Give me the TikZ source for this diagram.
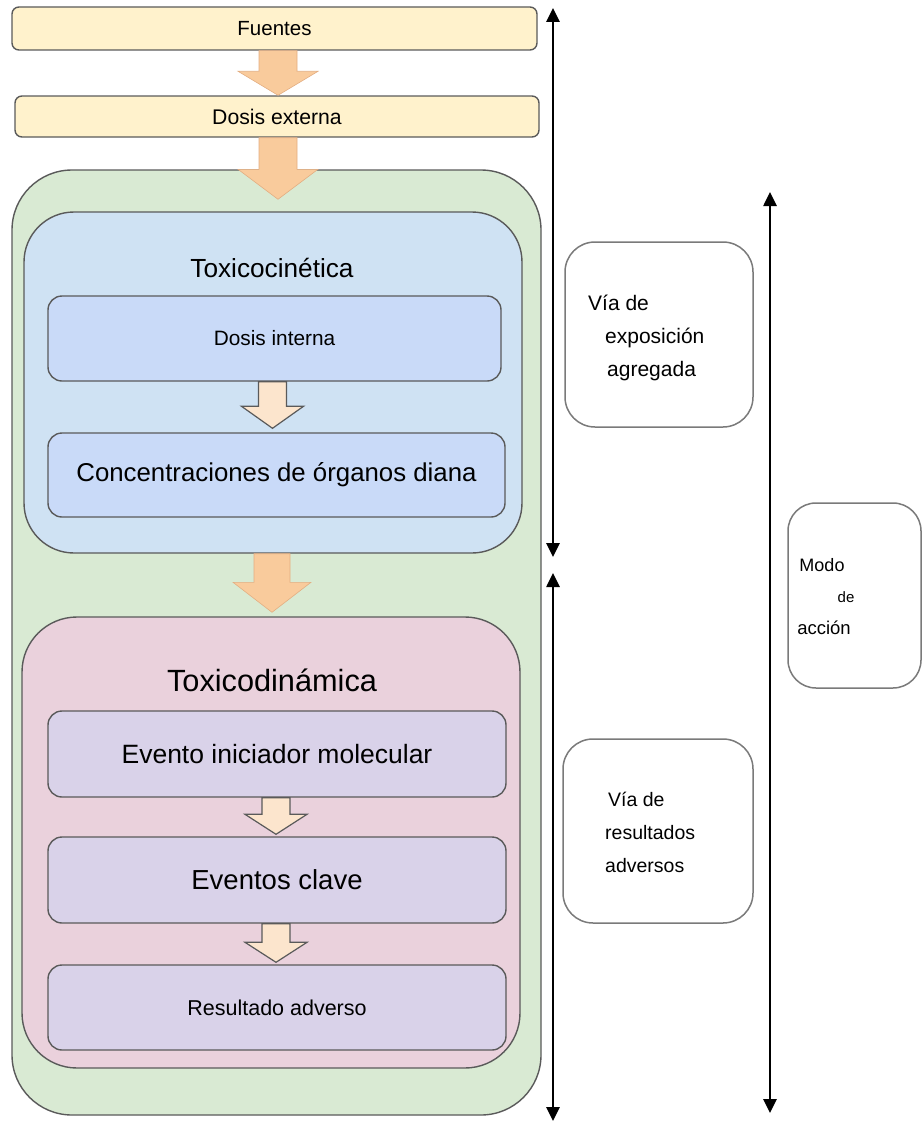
\documentclass[tikz,border=0pt]{standalone}
\usepackage{fontspec}
\setmainfont{Liberation Sans}
\usetikzlibrary{calc,arrows.meta}

\definecolor{edge}{HTML}{5A5A5A}
\definecolor{softedge}{HTML}{7A7A7A}
\definecolor{cream}{HTML}{FFF2CC}
\definecolor{outergreen}{HTML}{D9EAD3}
\definecolor{kinblue}{HTML}{CFE2F3}
\definecolor{innerblue}{HTML}{C9DAF8}
\definecolor{dynpink}{HTML}{EAD1DC}
\definecolor{lavender}{HTML}{D9D2E9}
\definecolor{bigarrow}{HTML}{F9CB9C}
\definecolor{bigarrowedge}{HTML}{E3AE82}
\definecolor{smallarrow}{HTML}{FCE5CD}

% #1 style, #2 start, #3 tip, #4 half shaft width, #5 half head width, #6 head length
\newcommand{\fatarrow}[6]{%
  \path[#1] let \p1=(#2), \p2=(#3) in
    (\x2-#4,\y1) -- (\x2-#4,\y2+#6) -- (\x2-#5,\y2+#6) -- (\x2,\y2)
    -- (\x2+#5,\y2+#6) -- (\x2+#4,\y2+#6) -- (\x2+#4,\y1) -- cycle;}

\newcommand{\fs}[1]{\fontsize{#1}{#1}\selectfont}

\tikzset{
  box/.style={draw=edge, line width=1.4pt, inner sep=0pt},
  topbox/.style={box, fill=cream, rounded corners=7pt},
  stagebox/.style={box, rounded corners=14pt},
  notebox/.style={draw=softedge, line width=1.5pt, fill=white, rounded corners=30pt, inner sep=0pt},
  orangearrow/.style={fill=bigarrow, draw=bigarrowedge, line width=0.6pt},
  palearrow/.style={fill=smallarrow, draw=edge, line width=1.2pt},
  span/.style={line width=2.6pt, {Triangle[length=14pt,width=13pt]}-{Triangle[length=14pt,width=13pt]}},
  label/.style={inner sep=0pt, text=black}
}

\begin{document}
\begin{tikzpicture}[x=1pt, y=-1pt]
\useasboundingbox (0,0) rectangle (923,1124);

% top chain
\node[topbox, minimum width=525pt, minimum height=43pt] (fuentes) at (274.5,28.5) {\fs{20.5}Fuentes};
\node[topbox, minimum width=524pt, minimum height=41pt] (dext) at (277,116.5) {\fs{21.2}Dosis externa};

% outer container
\node[box, fill=outergreen, rounded corners=60pt, minimum width=529pt, minimum height=945pt] (outer) at (276.5,642.5) {};

% toxicokinetics
\node[box, fill=kinblue, rounded corners=50pt, minimum width=498pt, minimum height=341pt] (tk) at (273,382.5) {};
\node[label] (tktitle) at (272,268) {\fs{26.2}Toxicocinética};
\node[stagebox, fill=innerblue, minimum width=453pt, minimum height=85pt] (dint) at (274.5,338.5) {\fs{20.8}Dosis interna};
\node[stagebox, fill=innerblue, minimum width=457pt, minimum height=84pt] (conc) at (276.5,475) {\fs{25.8}Concentraciones de órganos diana};

% toxicodynamics
\node[box, fill=dynpink, rounded corners=55pt, minimum width=498pt, minimum height=451pt] (td) at (271,842.5) {};
\node[label] (tdtitle) at (272,680) {\fs{30.7}Toxicodinámica};
\node[stagebox, fill=lavender, minimum width=458pt, minimum height=86pt] (mie) at (277,754) {\fs{26.5}Evento iniciador molecular};
\node[stagebox, fill=lavender, minimum width=458pt, minimum height=86pt] (kev) at (277,880) {\fs{27.5}Eventos clave};
\node[stagebox, fill=lavender, minimum width=458pt, minimum height=85pt] (adv) at (277,1007.5) {\fs{21.5}Resultado adverso};

% block arrows
\fatarrow{orangearrow}{fuentes.south}{$(dext.north)+(1,0)$}{19pt}{40pt}{24pt}
\fatarrow{orangearrow}{dext.south}{$(tk.north)+(5,-12)$}{19pt}{40pt}{30pt}
\fatarrow{orangearrow}{tk.south}{$(td.north)+(1,-4)$}{18pt}{39pt}{30pt}
\fatarrow{palearrow}{dint.south}{$(conc.north)+(-4,-4)$}{14pt}{31pt}{22pt}
\fatarrow{palearrow}{mie.south}{$(kev.north)+(-1,-2)$}{14pt}{31pt}{20pt}
\fatarrow{palearrow}{kev.south}{$(adv.north)+(-1,-2)$}{14pt}{31pt}{20pt}

% side notes
\node[notebox, minimum width=188pt, minimum height=185pt] (expo) at (659,334.5) {};
\node[label, align=left, anchor=north west, font={\fontsize{21}{33}\selectfont}] (expotext) at (588,295)
  {Vía de\\\hspace*{17pt}exposición\\\hspace*{19pt}agregada};
\node[notebox, rounded corners=28pt, minimum width=133pt, minimum height=185pt] (modo) at (854.5,595.5) {};
\node[label] (modo1) at (822,565) {\fs{18}Modo};
\node[label] (modo2) at (846,597) {\fs{15}de};
\node[label] (modo3) at (824,628) {\fs{18.5}acción};
\node[notebox, minimum width=190pt, minimum height=184pt] (aop) at (658,831) {};
\node[label, align=left, anchor=north west, font={\fontsize{19.5}{33}\selectfont}] (aoptext) at (605,792)
  {\hspace*{3pt}Vía de\\resultados\\adversos};

% span arrows
\coordinate (s1top) at (553,8);
\coordinate (s1bot) at (553,557);
\coordinate (s2top) at (553,573);
\coordinate (s2bot) at (553,1121);
\coordinate (s3top) at (770,192);
\coordinate (s3bot) at (770,1113);
\draw[span] (s1top) -- (s1bot);
\draw[span] (s2top) -- (s2bot);
\draw[span] (s3top) -- (s3bot);
\end{tikzpicture}
\end{document}
